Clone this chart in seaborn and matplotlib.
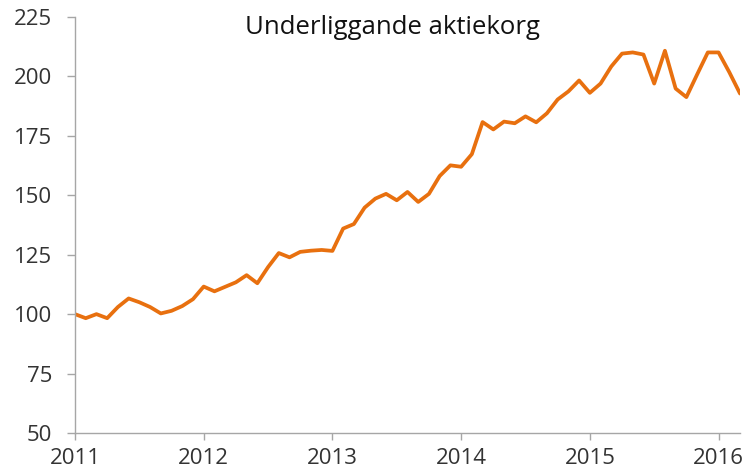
import numpy as np
import pandas as pd
import matplotlib
matplotlib.use("Agg")
import matplotlib.pyplot as plt
import seaborn as sns

# Monthly index values, Jan 2011 .. Mar 2016
values = [100, 98.3, 100, 98.3, 103, 106.6, 105, 103, 100.3, 101.4, 103.4, 106.3,
          111.6, 109.6, 111.5, 113.4, 116.4, 113, 119.8, 125.7, 123.9, 126.2, 126.7, 127,
          126.6, 136, 137.9, 144.8, 148.6, 150.6, 147.9, 151.4, 147.2, 150.6, 158.1, 162.6,
          162, 167.3, 180.8, 177.7, 181, 180.3, 183.2, 180.7, 184.5, 190.3, 193.7, 198.3,
          193.1, 197, 204.2, 209.6, 210.1, 209.2, 197, 210.8, 194.9, 191.3, 200.8, 210.1,
          210.1, 201.8, 192.8]
start_year = 2011
year_ticks = [2011, 2012, 2013, 2014, 2015, 2016]
y_ticks = [50, 75, 100, 125, 150, 175, 200, 225]
title = "Underliggande aktiekorg"

df = pd.DataFrame({"t": start_year + np.arange(len(values)) / 12.0, "v": values})

sns.set_theme(style="white")
plt.rcParams["font.family"] = ["Open Sans", "DejaVu Sans"]

fig = plt.figure(figsize=(7.53, 4.74), dpi=100)
ax = fig.add_axes([75 / 753, 1 - 433 / 474, (740 - 75) / 753, (433 - 17) / 474])

sns.lineplot(data=df, x="t", y="v", ax=ax, color="#E8700F", linewidth=2.7)

ax.set_xlim(df["t"].iloc[0], df["t"].iloc[-1])
ax.set_ylim(50, 225)
ax.set_xticks(year_ticks)
ax.set_xticklabels([str(y) for y in year_ticks])
ax.set_yticks(y_ticks)
ax.set_xlabel("")
ax.set_ylabel("")

for s in ["top", "right"]:
    ax.spines[s].set_visible(False)
for s in ["left", "bottom"]:
    ax.spines[s].set_color("#A6A6A6")
    ax.spines[s].set_linewidth(1.0)

ax.tick_params(axis="both", which="major", direction="out", width=1,
               color="#A6A6A6", labelsize=16, labelcolor="#333333",
               bottom=True, left=True)
ax.tick_params(axis="x", length=5, pad=5.5)
ax.tick_params(axis="y", length=5.8, pad=10.5)

ax.text(0.477, 0.959, title, transform=ax.transAxes, ha="center", va="baseline",
        fontsize=18.5, color="#111111")

fig.savefig("out.png", dpi=100)
